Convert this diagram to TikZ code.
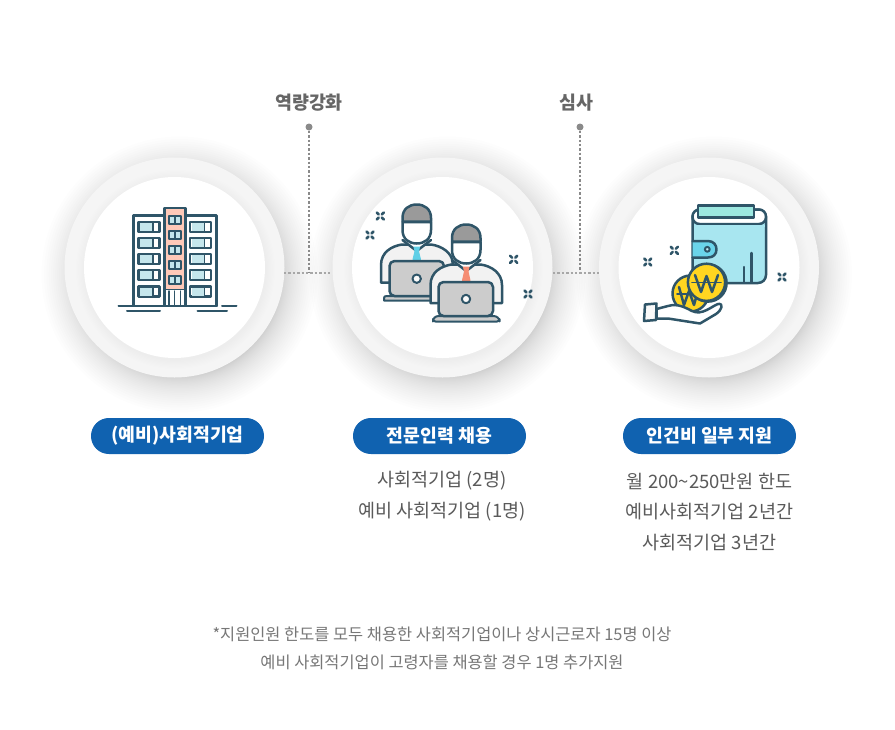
\documentclass[tikz,border=0pt]{standalone}
\usepackage{fontspec}
\setmainfont{Noto Sans CJK KR}
\usetikzlibrary{calc}
\definecolor{ink}{HTML}{2F5568}
\definecolor{pill}{HTML}{1062B0}
\definecolor{lab}{HTML}{666666}
\definecolor{bodyt}{HTML}{5A5A5A}
\definecolor{foot}{HTML}{777777}
\definecolor{dotc}{HTML}{8A8A8A}
\definecolor{salm}{HTML}{FFC9B8}
\definecolor{win}{HTML}{C5E6EC}
\definecolor{suit}{HTML}{F2F2F2}
\definecolor{hatg}{HTML}{9A9A9A}
\definecolor{lapt}{HTML}{CCCCCC}
\definecolor{tiea}{HTML}{5FCFE6}
\definecolor{tieb}{HTML}{F58D73}
\definecolor{wal}{HTML}{A8E6F0}
\definecolor{card}{HTML}{9CE8E0}
\definecolor{clasp}{HTML}{6AD4EA}
\definecolor{coin}{HTML}{FFD520}
\definecolor{ringc}{HTML}{F5F5F5}
\tikzset{
  ic/.style={draw=ink,line width=2.5pt,line join=round,line cap=round},
  pillbox/.style={fill=pill,rounded corners=17.9pt,minimum width=173pt,minimum height=36pt,inner sep=0pt,text=white,font=\fontsize{18.3}{18.3}\selectfont\bfseries},
  toplab/.style={text=lab,inner sep=0pt,font=\fontsize{18.4}{18.4}\selectfont\bfseries},
  bodytxt/.style={text=bodyt,inner sep=0pt,font=\fontsize{18.5}{18.5}\selectfont},
  foottxt/.style={text=foot,inner sep=0pt,font=\fontsize{16.4}{16.4}\selectfont},
  dotnode/.style={circle,fill=dotc,minimum size=7pt,inner sep=0pt},
  conn/.style={draw=dotc,line width=1.1pt,dash pattern=on 2.4pt off 2pt},
}
\newcommand{\halo}[2]{%
  \foreach \r in {1,...,30}{\fill[black,opacity=0.0095] (#1+5,#2+7) circle ({100+38*(\r/30)*(\r/30)});}
  \fill[ringc] (#1,#2) circle (110);
  \foreach \r in {1,...,8}{\fill[black,opacity=0.003] (#1+1,#2+2) circle ({90+\r*1.2});}
  \fill[white] (#1,#2) circle (90.5);
}
\newcommand{\spark}[2]{%
  \begin{scope}[shift={(#1,#2)}]
    \foreach \a in {45,135,225,315}{\draw[draw=ink,line width=2.6pt,line cap=round] (\a:2.2) -- (\a:5);}
  \end{scope}}
\begin{document}
\begin{tikzpicture}[x=1pt,y=-1pt]
\useasboundingbox (0,0) rectangle (895,729);
\fill[white] (0,0) rectangle (895,729);
\halo{174.5}{267.5}
\halo{442.5}{267.5}
\halo{709}{267.5}

% connectors
\node[dotnode] (d1) at (309,127) {};
\node[dotnode] (d2) at (580,127) {};
\coordinate (j1) at (309,273);
\coordinate (j2) at (580,273);
\coordinate (l1) at (284,273);
\coordinate (r1) at (332,273);
\coordinate (l2) at (553,273);
\coordinate (r2) at (600,273);
\draw[conn] (d1) -- (j1);
\draw[conn] (d2) -- (j2);
\draw[conn,draw=dotc!75] (l1) -- (r1);
\draw[conn,draw=dotc!75] (l2) -- (r2);
\node[toplab] (t1) at (309,102.5) {역량강화};
\node[toplab] (t2) at (576.5,102.5) {심사};

% building
\draw[ic,fill=white] (133.5,306) rectangle (216.5,215.5);
\draw[ic,fill=salm] (164.5,208) rectangle (185.5,306);
\foreach \y in {222,238,254,270,286.5}{
  \draw[ic,fill=white,line width=2.3pt] (138.5,\y) rectangle (159.5,\y+10);
  \fill[win] (140,\y+1) rectangle (152,\y+9);
  \draw[ic,line width=1.6pt] (152.7,\y) -- (152.7,\y+10);
  \draw[ic,fill=white,line width=2.3pt] (190,\y) rectangle (211,\y+10);
  \fill[win] (191.5,\y+1) rectangle (204,\y+9);
  \draw[ic,line width=1.6pt] (204.3,\y) -- (204.3,\y+10);
}
\foreach \y in {215.7,230.7,245.7,260.7,275.7}{
  \draw[ic,fill=win,line width=2.3pt] (169,\y) rectangle (181,\y+8.3);
  \draw[ic,line width=1.6pt] (175,\y) -- (175,\y+8.3);
}
\fill[white] (166,290) rectangle (184,305);
\draw[ic,line width=1.6pt] (164.5,289.5) -- (185.5,289.5);
\foreach \x in {169,174.5,180.5}{\draw[ic,line width=1.5pt] (\x,291) -- (\x,306);}
\draw[ic,line width=2pt] (118.5,306) -- (217,306);
\draw[ic,line width=2pt] (222,306) -- (236.5,306);
\draw[ic,line width=2pt] (127,311) -- (160,311);
\draw[ic,line width=2pt] (197.5,311) -- (227,311);

% person A
\draw[ic,fill=suit] (381,282.5) -- (381,265) .. controls (381,252) and (392,246) .. (402,244.5) -- (431,244.5) .. controls (442,246) and (452,253) .. (452.5,262) -- (452.5,283) -- cycle;
\draw[ic,fill=white] (402.5,240) -- (416.7,251) -- (431,240);
\draw[ic,fill=tiea,line width=1pt,draw=tiea] (414,247) -- (419.5,247) -- (418.5,251.5) -- (420.5,259.5) -- (413,259.5) -- (415,251.5) -- cycle;
\draw[ic,fill=white] (402.5,222) -- (402.5,230) .. controls (402.5,239) and (409,243.5) .. (416.7,243.5) .. controls (424.5,243.5) and (431,239) .. (431,230) -- (431,222) -- cycle;
\draw[ic,fill=hatg] (402.5,221.5) -- (402.5,218) .. controls (402.5,209) and (409,204.5) .. (416.7,204.5) .. controls (424.5,204.5) and (431,209) .. (431,218) -- (431,221.5) -- cycle;
\draw[ic,fill=lapt,line width=2pt] (384,300.5) -- (384,298) .. controls (384,296.5) and (385,296) .. (387,296) -- (436,296) -- (436,300.5) -- cycle;
\draw[ic,fill=lapt,rounded corners=5pt] (389.5,261) rectangle (444,296);
\draw[ic,line width=2pt,fill=white!90!lapt] (416.7,278.7) circle (4.2);
% person B
\draw[ic,fill=suit] (430.5,303) -- (430.5,285) .. controls (430.5,272) and (441.5,266) .. (451.5,264.5) -- (480.5,264.5) .. controls (491.5,266) and (502,273) .. (502,285) -- (502,303) -- cycle;
\draw[ic,fill=white] (452,260) -- (466.2,271) -- (480.5,260);
\draw[ic,fill=tieb,line width=1pt,draw=tieb] (463.5,267) -- (469,267) -- (468,271.5) -- (470,280.5) -- (462.5,280.5) -- (464.5,271.5) -- cycle;
\draw[ic,fill=white] (452,242) -- (452,250) .. controls (452,259) and (458.5,263.5) .. (466.2,263.5) .. controls (474,263.5) and (480.5,259) .. (480.5,250) -- (480.5,242) -- cycle;
\draw[ic,fill=hatg] (452,241.5) -- (452,238) .. controls (452,229) and (458.5,224.5) .. (466.2,224.5) .. controls (474,224.5) and (480.5,229) .. (480.5,238) -- (480.5,241.5) -- cycle;
\draw[ic,fill=lapt,rounded corners=2.5pt,line width=2pt] (433,321.5) -- (433,319) -- (436,316) -- (496,316) -- (499.5,319) -- (499.5,321.5) -- cycle;
\draw[ic,fill=lapt,rounded corners=5pt] (438.5,282) rectangle (493,316);
\draw[ic,line width=2pt,fill=white!90!lapt] (466,299) circle (4.2);
\spark{380.3}{216}\spark{370}{235}\spark{513.7}{259.3}\spark{528}{294}

% wallet
\draw[ic,fill=wal,rounded corners=8pt] (692.5,209.5) rectangle (766,283);
\draw[ic,fill=white,rounded corners=7pt] (692.5,224) -- (692.5,209.5) -- (766,209.5) -- (766,224) -- cycle;
\fill[wal] (694,225.4) rectangle (764.8,227);
\draw[ic,fill=card] (698,217.5) -- (698,205.5) -- (754,205.5) -- (754,217.5) -- cycle;
\draw[ic,fill=clasp] (692.5,241) -- (708,241) .. controls (713.5,241) and (716.5,245) .. (716.5,249.3) .. controls (716.5,254) and (713.5,257.5) .. (708,257.5) -- (692.5,257.5);
\draw[ic,line width=2pt,fill=clasp!40!white] (707.3,249.3) circle (2.4);
\draw[ic] (751.3,253) -- (751.3,282);
\draw[ic] (744,267) -- (744,282);
% back coin
\draw[ic,fill=coin] (690.5,293.5) circle (18);
\draw[ic,line width=2.5pt] (679,287) -- (684,305) -- (689,291) -- (694,305) -- (699,287);
\draw[ic,line width=1.8pt] (677,294) -- (701,294);
% hand
\draw[ic,fill=white] (656.5,309) -- (668,306) .. controls (678,303) and (686,308) .. (692,311) .. controls (702,316) and (712,306) .. (718,304) .. controls (724,303) and (722,310) .. (716,314) -- (700,323.5) -- (668,318.5) -- (656.5,318.5) -- cycle;
\draw[ic,fill=white!90!lapt] (645,304.5) -- (656.5,303.5) -- (656,320) -- (644,321) -- cycle;
% front coin
\draw[ic,fill=coin] (708,283) circle (18.6);
\draw[ic,fill=coin] (706.5,282.3) circle (18.6);
\draw[ic,line width=2.5pt] (695,275) -- (701,292) -- (706.5,276) -- (712,292) -- (718,275);
\draw[ic,line width=1.8pt] (692,282.5) -- (721,282.5);
\spark{674.3}{250.3}\spark{647.7}{262}\spark{782}{277}

% labels
\node[pillbox] (p1) at (177.5,436) {\raisebox{-0.5pt}{(예비)사회적기업}};
\node[pillbox] (p2) at (439.5,436) {\raisebox{-0.5pt}{전문인력 채용}};
\node[pillbox] (p3) at (709.5,436) {\raisebox{-0.5pt}{인건비 일부 지원}};
\node[bodytxt] (a1) at (442,481) {사회적기업 (2명)};
\node[bodytxt] (a2) at (442,512) {예비 사회적기업 (1명)};
\node[bodytxt] (b1) at (709.5,481) {월 200\textasciitilde250만원 한도};
\node[bodytxt] (b2) at (709.5,512) {예비사회적기업 2년간};
\node[bodytxt] (b3) at (709.5,543) {사회적기업 3년간};
\node[foottxt] (f1) at (442,634) {*지원인원 한도를 모두 채용한 사회적기업이나 상시근로자 15명 이상};
\node[foottxt] (f2) at (442,662) {예비 사회적기업이 고령자를 채용할 경우 1명 추가지원};
\end{tikzpicture}
\end{document}
